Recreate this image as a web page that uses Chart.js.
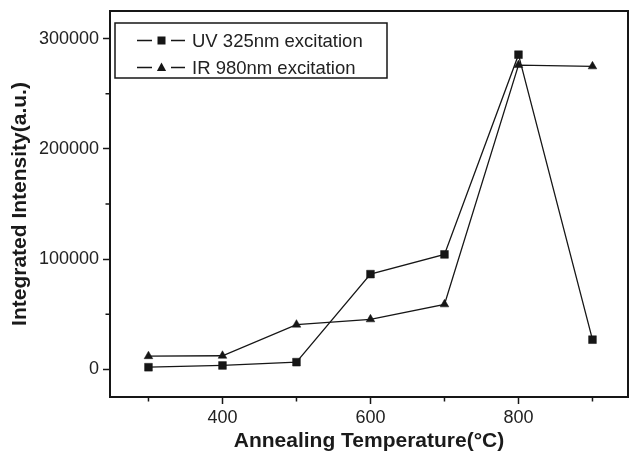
<!DOCTYPE html>
<html><head><meta charset="utf-8">
<script src="https://cdn.jsdelivr.net/npm/chart.js@4/dist/chart.umd.min.js"></script>
<style>html,body{margin:0;padding:0;background:#fff}canvas{display:block}</style>
</head><body>
<canvas id="c" width="629" height="452"></canvas>
<script>
const temperatures = [300, 400, 500, 600, 700, 800, 900];
const uv325 = [2000, 3600, 6600, 86400, 104300, 285400, 27000];
const ir980 = [12000, 12400, 40600, 45400, 59000, 276000, 274800];
const seriesNames = ['UV 325nm excitation', 'IR 980nm excitation'];
const xMajorTicks = [400, 600, 800];
const xMinorTicks = [300, 500, 700, 900];
const yMajorTicks = [0, 100000, 200000, 300000];
const yMinorTicks = [50000, 150000, 250000];
const xTitle = 'Annealing Temperature(\u00B0C)';
const yTitle = 'Integrated Intensity(a.u.)';

const FONT = '"Liberation Sans", Arial, Helvetica, sans-serif';
const INK = '#161616';

const toPoints = (ys) => temperatures.map((t, i) => ({x: t, y: ys[i]}));

const framePlugin = {
  id: 'frameAndLegend',
  afterDraw(chart) {
    const ctx = chart.ctx;
    const a = chart.chartArea;
    const xs = chart.scales.x, ys = chart.scales.y;
    ctx.save();
    ctx.strokeStyle = INK;
    ctx.lineWidth = 2;
    ctx.strokeRect(a.left, a.top, a.right - a.left, a.bottom - a.top);
    ctx.lineWidth = 1.5;
    ctx.beginPath();
    xMinorTicks.forEach(v => {
      const px = xs.getPixelForValue(v);
      ctx.moveTo(px, a.bottom); ctx.lineTo(px, a.bottom + 4.5);
    });
    yMinorTicks.forEach(v => {
      const py = ys.getPixelForValue(v);
      ctx.moveTo(a.left, py); ctx.lineTo(a.left - 4.5, py);
    });
    ctx.stroke();
    // legend
    const bx = a.left + 5, by = a.top + 12, bw = 272, bh = 55;
    ctx.lineWidth = 1.5;
    ctx.strokeRect(bx, by, bw, bh);
    const styles = ['rect', 'triangle'];
    ctx.font = '18.5px ' + FONT;
    ctx.textBaseline = 'middle';
    ctx.textAlign = 'left';
    seriesNames.forEach((name, i) => {
      const cy = by + 17.5 + i * 27;
      ctx.strokeStyle = INK; ctx.lineWidth = 1.3;
      ctx.beginPath();
      ctx.moveTo(bx + 22, cy); ctx.lineTo(bx + 37, cy);
      ctx.moveTo(bx + 56, cy); ctx.lineTo(bx + 70, cy);
      ctx.stroke();
      const mx = bx + 46.5;
      ctx.fillStyle = INK;
      if (styles[i] === 'rect') {
        ctx.fillRect(mx - 4, cy - 4, 8, 8);
      } else {
        ctx.beginPath();
        ctx.moveTo(mx, cy - 5);
        ctx.lineTo(mx + 4.6, cy + 3.5);
        ctx.lineTo(mx - 4.6, cy + 3.5);
        ctx.closePath();
        ctx.fill();
      }
      ctx.fillStyle = '#222';
      ctx.fillText(name, bx + 77, cy + 1);
    });
    ctx.restore();
  }
};

const zeroPad = s => { s.paddingLeft = 0; s.paddingRight = 0; s.paddingTop = 0; s.paddingBottom = 0; };

new Chart(document.getElementById('c'), {
  type: 'line',
  data: {
    datasets: [
      {
        label: seriesNames[0],
        data: toPoints(uv325),
        borderColor: INK, backgroundColor: INK,
        borderWidth: 1.3,
        pointStyle: 'rect', pointRadius: 5.5,
        pointBackgroundColor: INK, pointBorderColor: INK, pointBorderWidth: 0.5,
        tension: 0, fill: false
      },
      {
        label: seriesNames[1],
        data: toPoints(ir980),
        borderColor: INK, backgroundColor: INK,
        borderWidth: 1.3,
        pointStyle: 'triangle', pointRadius: 5,
        pointBackgroundColor: INK, pointBorderColor: INK, pointBorderWidth: 0.5,
        tension: 0, fill: false
      }
    ]
  },
  options: {
    responsive: false,
    animation: false,
    devicePixelRatio: 1,
    layout: {autoPadding: false, padding: {top: 11, right: 1, left: 0, bottom: 0}},
    plugins: {legend: {display: false}, tooltip: {enabled: false}, title: {display: false}},
    scales: {
      x: {
        type: 'linear', position: 'bottom',
        min: 248, max: 948,
        afterBuildTicks: s => { s.ticks = xMajorTicks.map(v => ({value: v})); },
        afterFit: s => { s.height = 55; zeroPad(s); },
        grid: {drawOnChartArea: false, drawTicks: true, tickLength: 7, tickWidth: 1.5, tickColor: INK},
        border: {display: false},
        ticks: {color: '#222', font: {family: FONT, size: 18}, padding: 3, maxRotation: 0,
                callback: v => String(v)},
        title: {display: true, text: xTitle, color: '#1a1a1a',
                font: {family: FONT, size: 21, weight: 'bold', lineHeight: 1},
                padding: {top: 0, bottom: 0}}
      },
      y: {
        type: 'linear', position: 'left',
        min: -25000, max: 325000,
        afterBuildTicks: s => { s.ticks = yMajorTicks.map(v => ({value: v})); },
        afterFit: s => { s.width = 110; zeroPad(s); },
        grid: {drawOnChartArea: false, drawTicks: true, tickLength: 7, tickWidth: 1.5, tickColor: INK},
        border: {display: false},
        ticks: {color: '#222', font: {family: FONT, size: 18}, padding: 4,
                callback: v => String(v)},
        title: {display: true, text: yTitle, color: '#1a1a1a',
                font: {family: FONT, size: 21, weight: 'bold', lineHeight: 1.2},
                padding: {top: 8, bottom: 0}}
      }
    }
  },
  plugins: [framePlugin]
});
</script>
</body></html>
